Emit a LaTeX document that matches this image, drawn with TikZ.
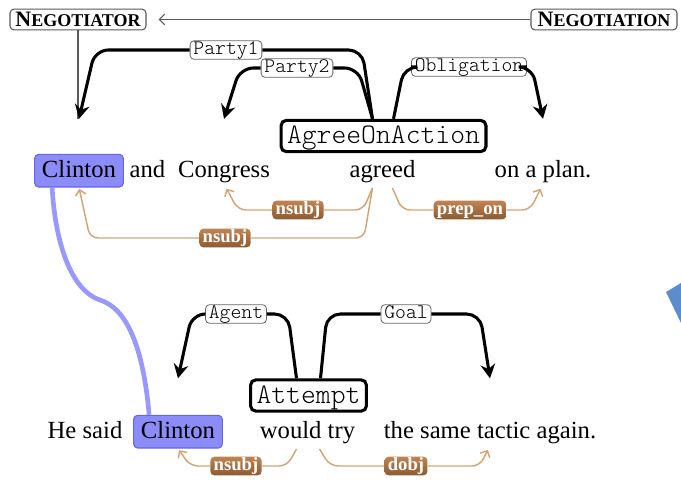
\documentclass[tikz,border=0pt]{standalone}
\usepackage{fontspec}
\setmainfont{Liberation Serif}
\setmonofont{Latin Modern Mono Light}
\usepackage{tikz}
\usetikzlibrary{calc}
\usetikzlibrary{arrows.meta}
\usepackage{xcolor}
\definecolor{entblue}{RGB}{140,140,248}
\definecolor{entedge}{RGB}{100,100,238}
\definecolor{linkblue}{RGB}{152,152,255}
\definecolor{deptan}{RGB}{212,165,115}
\definecolor{deptop}{RGB}{192,132,82}
\definecolor{depbot}{RGB}{140,90,50}
\definecolor{shardblue}{RGB}{92,140,205}
\newcommand{\fnsc}[2]{{\fontsize{16.5}{16}\selectfont #1}{\fontsize{13.5}{13}\selectfont #2}}

\begin{document}
\begin{tikzpicture}[x=0.75pt,y=-0.75pt]
				    \tikzstyle{word}=[inner sep=0pt,anchor=base,text depth=5pt,font=\fontsize{18.5}{20}\selectfont]
				    \tikzstyle{ent}=[word,fill=entblue,draw=entedge,line width=.8pt,rounded corners=3pt,inner xsep=5.5pt,inner ysep=5pt,text height=12pt,text depth=2.5pt]
				    \tikzstyle{framenode}=[draw,fill=white,line width=2.3pt,rounded corners=4pt,font=\fontsize{21.2}{22}\selectfont\ttfamily,inner xsep=4.5pt,inner ysep=6pt,text height=11.5pt,text depth=0pt]
				    \tikzstyle{fname}=[draw=black!65,fill=white,line width=.8pt,rounded corners=3pt,font=\bfseries,inner xsep=2.5pt,inner ysep=2.5pt,text height=10.6pt,text depth=0pt]
				    \tikzstyle{rolelab}=[draw=black!60,fill=white,line width=.6pt,rounded corners=3pt,font=\fontsize{15.5}{16}\selectfont\ttfamily,inner xsep=2.5pt,inner ysep=1.5pt,text height=8.5pt,text depth=2.5pt]
				    \tikzstyle{deplab}=[rounded corners=3pt,top color=deptop,bottom color=depbot,text=white,font=\fontsize{14}{14}\selectfont\bfseries,inner xsep=2.5pt,inner ysep=1.5pt,text height=8.5pt,text depth=2.5pt]
				    \tikzstyle{rolearrow}=[draw,line width=2.3pt,rounded corners=10pt,-{Stealth[length=10.5pt,width=11pt,inset=3.5pt]}]
				    \tikzstyle{dep}=[draw=deptan,line width=1.1pt,rounded corners=6pt,shorten >=4pt,-{Straight Barb[length=4pt,width=8pt]}]
				    \tikzstyle{evoke}=[draw=black!65,line width=.8pt]
				    \tikzstyle{corefline}=[draw=linkblue,line width=3.5pt]
				    \useasboundingbox (0,0) rectangle (681,479);
				    \fill[shardblue] (666,292) -- (681,283) -- (681,323) -- cycle;
				    \node[fname,minimum width=102pt] (negotiator) at (78,19.5) {\fnsc{N}{EGOTIATOR}};
				    \node[fname,minimum width=109.5pt] (negotiation) at (604,19.5) {\fnsc{N}{EGOTIATION}};
				    \node[ent] (clintonA) at (79,177) {Clinton};
				    \node[word] (andA) at (147.5,177) {and};
				    \node[word] (congress) at (224,177) {Congress};
				    \node[word] (agreed) at (382.5,177) {agreed};
				    \node[word] (plan) at (543,177) {on a plan.};
				    \node[framenode] (agree) at (383.5,136) {AgreeOnAction};
				    \node[word] (hesaid) at (85,438) {He said};
				    \node[ent] (clintonB) at (178,438) {Clinton};
				    \node[word] (would) at (307.5,438) {would try};
				    \node[word] (tactic) at (490,438) {the same tactic again.};
				    \node[framenode] (attempt) at (308.5,395.5) {Attempt};
				    \node[rolelab] (party1) at (226,50) {Party1};
				    \node[rolelab] (party2) at (297,68) {Party2};
				    \node[rolelab] (oblig) at (469,67) {Obligation};
				    \node[rolelab] (agent) at (236,314) {Agent};
				    \node[rolelab] (goal) at (406,314) {Goal};
				    \node[deplab] (nsubjA) at (298,210) {nsubj};
				    \node[deplab] (nsubjB) at (225,238) {nsubj};
				    \node[deplab] (prepon) at (470,210) {prep\_on};
				    \node[deplab] (nsubjC) at (236,466) {nsubj};
				    \node[deplab] (dobj) at (406,466) {dobj};
				    \draw[evoke,shorten >=9pt,-{Straight Barb[length=4pt,width=8pt]}] (negotiation.west) -- (negotiator.east);
				    \draw[evoke] (negotiator.south) -- (negotiator.south |- agree.north);
				    \draw[rolearrow] ($(agree.north)+(-11,0)$) -- (362,50) -- (party1.east) (party1.west) -- (95,50) -- (clintonA |- agree.north);
				    \draw[rolearrow] ($(agree.north)+(-11,0)$) -- (358,68) -- (party2.east) (party2.west) -- (240,68) -- (congress |- agree.north);
				    \draw[rolearrow] ($(agree.north)+(10,0)$) -- (404,67) -- (oblig.west) (oblig.east) -- (532,67) -- (plan |- agree.north);
				    \draw[rolearrow] ($(attempt.north)+(-12,0)$) -- (288,314) -- (agent.east) (agent.west) -- (192,314) -- (clintonB |- attempt.north);
				    \draw[rolearrow] ($(attempt.north)+(12,0)$) -- (327,314) -- (goal.west) (goal.east) -- (480,314) -- (tactic |- attempt.north);
				    \draw[dep] ($(agreed.south)+(-10,4)$) -- (363,210) -- (nsubjA.east) (nsubjA.west) -- (238,210) -- (congress.south);
				    \draw[dep,shorten >=1pt] ($(agreed.south)+(-10,4)$) -- (364,238) -- (nsubjB.east) (nsubjB.west) -- (90,238) -- (clintonA.south);
				    \draw[dep] ($(agreed.south)+(10,4)$) -- (402,210) -- (prepon.west) (prepon.east) -- (530,210) -- (plan.south);
				    \draw[dep,shorten >=1.5pt] ($(would.south)+(-11,4)$) -- (287,466) -- (nsubjC.east) (nsubjC.west) -- (190,466) -- (clintonB.south);
				    \draw[dep] ($(would.south)+(12,4)$) -- (330,466) -- (dobj.west) (dobj.east) -- (480,466) -- (tactic.south);
				    \draw[corefline] ($(clintonA.south west)+(18,0)$) .. controls (55,240) and (70,290) .. (100,300) .. controls (126,308) and (143,345) .. ($(clintonB.north west)+(16,0)$);
				\end{tikzpicture}
\end{document}
